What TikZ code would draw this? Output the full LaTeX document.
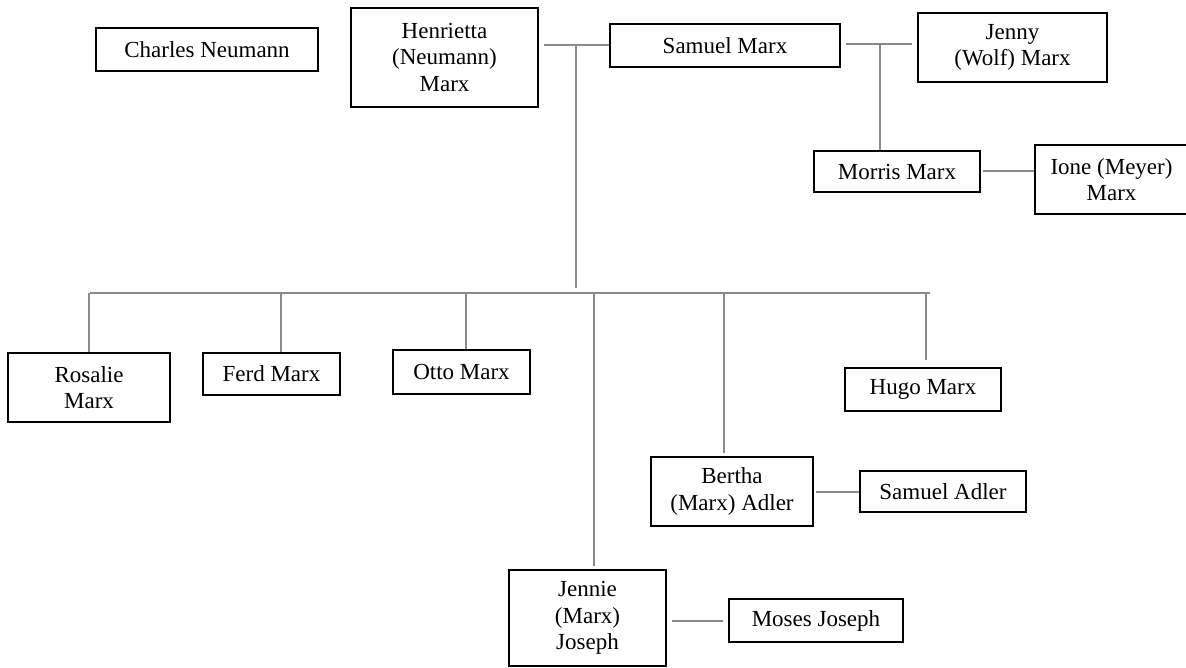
\documentclass[tikz,border=0pt]{standalone}
\usepackage{fontspec}
\setmainfont{Liberation Serif}
\definecolor{linkgray}{RGB}{138,138,138}
\begin{document}
\begin{tikzpicture}[x=1pt,y=-1pt,
  person/.style={draw=black, line width=1.6pt, fill=white, inner sep=0pt,
    align=center, font=\fontsize{23}{26.5}\selectfont},
  link/.style={draw=linkgray, line width=2pt}]
\useasboundingbox (0,0) rectangle (1186,668);

% people
\node[person, minimum width=222, minimum height=43] (charles)   at (207,49.5)    {Charles Neumann};
\node[person, minimum width=187, minimum height=99] (henrietta) at (444.5,57.5)  {Henrietta\\(Neumann)\\Marx};
\node[person, minimum width=230, minimum height=43] (samuel)    at (725,45.5)    {Samuel Marx};
\node[person, minimum width=189, minimum height=69] (jenny)     at (1012.5,47.5) {Jenny\\(Wolf) Marx};
\node[person, minimum width=166, minimum height=41] (morris)    at (897,171.5)   {Morris Marx};
\node[person, minimum width=153, minimum height=69] (ione)      at (1111.5,179.5){Ione (Meyer)\\Marx};
\node[person, minimum width=162, minimum height=69] (rosalie)   at (89,387.5)    {Rosalie\\Marx};
\node[person, minimum width=137, minimum height=42] (ferd)      at (271.5,374)   {Ferd Marx};
\node[person, minimum width=137, minimum height=44] (otto)      at (461.5,372)   {Otto Marx};
\node[person, minimum width=156, minimum height=43] (hugo)      at (923,389.5)   {Hugo Marx};
\node[person, minimum width=162, minimum height=69] (bertha)    at (732,491.5)   {Bertha\\(Marx) Adler};
\node[person, minimum width=166, minimum height=41] (sadler)    at (943,491.5)   {Samuel Adler};
\node[person, minimum width=157, minimum height=96] (jennie)    at (587.5,618)   {Jennie\\(Marx)\\Joseph};
\node[person, minimum width=174, minimum height=43] (moses)     at (816,620.5)   {Moses Joseph};

% marriage joints and the children's bar
\coordinate (wed1) at (576,45);
\coordinate (wed2) at (880,44);
\coordinate (barL) at (90,293);
\coordinate (barR) at (930,293);

% Henrietta and Samuel, with their children
\draw[link] ([xshift=5pt]henrietta.east |- wed1) -- (samuel.west |- wed1);
\draw[link] (wed1) -- ([yshift=5pt]wed1 |- barL);
\draw[link] (barL) -- (barR);
\draw[link] (rosalie.north |- barL) -- (rosalie.north);
\draw[link] ([xshift=9pt]ferd.north |- barL) -- ([xshift=9pt]ferd.north);
\draw[link] ([xshift=4.5pt]otto.north |- barL) -- ([xshift=4.5pt]otto.north);
\draw[link] ([xshift=3pt]hugo.north |- barL) -- ([xshift=3pt,yshift=7pt]hugo.north);
\draw[link] ([xshift=-8pt]bertha.north |- barL) -- ([xshift=-8pt,yshift=3pt]bertha.north);
\draw[link] ([xshift=6pt]jennie.north |- barL) -- ([xshift=6pt,yshift=3pt]jennie.north);

% Samuel and Jenny, with Morris
\draw[link] ([xshift=5pt]samuel.east |- wed2) -- ([xshift=-5pt]jenny.west |- wed2);
\draw[link] (wed2) -- (wed2 |- morris.north);

% spouses
\draw[link] ([xshift=2pt]morris.east) -- (ione.west |- morris.east);
\draw[link] ([xshift=2pt]bertha.east) -- (sadler.west);
\draw[link] ([xshift=5pt]jennie.east |- moses.west) -- ([xshift=-5pt]moses.west);
\end{tikzpicture}
\end{document}
